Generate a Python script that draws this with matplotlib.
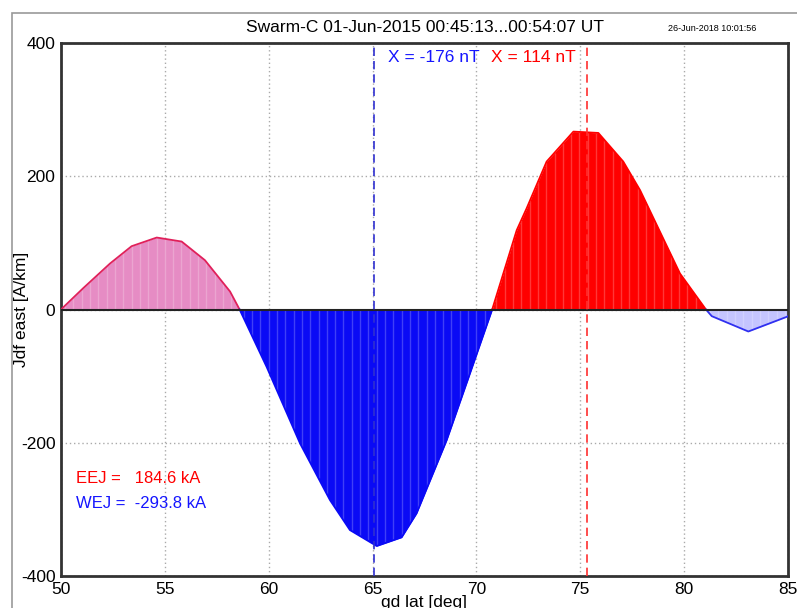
import numpy as np
import matplotlib
matplotlib.use("Agg")
import matplotlib.pyplot as plt
from matplotlib.patches import Rectangle

plt.rcParams['font.family'] = ['Liberation Sans', 'DejaVu Sans']
plt.rcParams['axes.unicode_minus'] = False

# data
lat = [50.0, 51.07, 52.36, 53.40, 54.61, 55.81, 56.93, 58.14, 58.6,
       59.90, 61.51, 62.95, 63.91, 65.20, 66.40, 67.12, 68.57, 69.69, 70.76,
       71.94, 72.42, 73.38, 74.67, 75.87, 77.07, 77.88, 79.80, 81.05,
       81.33, 83.09, 84.94, 85.0]
jdf = [0, 32, 69, 95, 108, 102, 74, 27, 0,
       -86, -201, -286, -331, -355, -342, -306, -196, -96, 0,
       119, 152, 222, 267, 265, 222, 179, 54, 0,
       -10, -33, -11, -10]
# segments: (start lat, end lat, fill colour, edge colour)
segments = [(50.0, 58.6, '#e68cc4', '#e0205a'),
            (58.6, 70.76, '#0a0af5', '#0a0af5'),
            (70.76, 81.05, '#ff0000', '#ff0000'),
            (81.05, 85.0, '#c4c4ff', '#3030f0')]
x_blue, x_red = 65.05, 75.33
label_blue, label_red = 'X = -176 nT', 'X = 114 nT'
eej, wej = 184.6, -293.8
title = 'Swarm-C 01-Jun-2015 00:45:13...00:54:07 UT'
stamp = '26-Jun-2018 10:01:56'

lat = np.array(lat)
jdf = np.array(jdf, dtype=float)

fig = plt.figure(figsize=(7.97, 6.08), dpi=100)
ax = fig.add_axes([0.0765, 0.0526, 0.9122, 0.8767])

# outer frame
fig.patches.append(Rectangle((0.015, -0.1), 1.1, 1.078, transform=fig.transFigure,
                             fill=False, edgecolor='#999999', lw=1.2))

for x0, x1, fc, ec in segments:
    m = (lat >= x0 - 1e-9) & (lat <= x1 + 1e-9)
    ax.fill_between(lat[m], jdf[m], 0, color=fc, lw=0, zorder=2)
    ax.plot(lat[m], jdf[m], color=ec, lw=1.3, zorder=3)
    # light vertical stripes like the original bar rendering
    xs = np.arange(x0 + 0.2, x1 - 0.1, 0.4)
    ax.vlines(xs, 0, np.interp(xs, lat, jdf), color='white', alpha=0.22, lw=1, zorder=2.5)

ax.axhline(0, color='#222222', lw=1.5, zorder=4)
ax.axvline(x_blue, color='#3030d0', ls=(0, (5, 3)), lw=1.2, zorder=5)
ax.axvline(x_red, color='#ff3030', ls=(0, (5, 3)), lw=1.2, zorder=5)

ax.set_xlim(50, 85)
ax.set_ylim(-400, 400)
ax.set_xticks(np.arange(50, 86, 5))
ax.set_yticks([-400, -200, 0, 200, 400])
ax.grid(True, color='#aaaaaa', ls=(0, (1, 2)), lw=1)
ax.set_axisbelow(True)
ax.tick_params(direction='in', length=0, labelsize=12.5)
ax.tick_params(axis='x', pad=4)
ax.tick_params(axis='y', pad=4)
for s in ax.spines.values():
    s.set_linewidth(2)
    s.set_color('#333333')

ax.set_xlabel('gd lat [deg]', fontsize=12.5, labelpad=-1)
ax.set_ylabel('Jdf east [A/km]', fontsize=12.5)
ax.yaxis.set_label_coords(-0.044, 0.5)

fig.text(0.533, 0.955, title, ha='center', va='center', fontsize=12.5)
fig.text(0.893, 0.953, stamp, ha='center', va='center', fontsize=6.5)

ax.text(x_blue + 0.7, 378, label_blue, color='#1515ff', fontsize=12.5, va='center')
ax.text(x_red - 0.55, 378, label_red, color='#ff0000', fontsize=12.5, va='center', ha='right')

ax.text(50.7, -253, 'EEJ =   %.1f kA' % eej, color='#ff0000', fontsize=12, va='center')
ax.text(50.7, -291, 'WEJ =  %.1f kA' % wej, color='#1515ff', fontsize=12, va='center')

fig.savefig('out.png', dpi=100)
